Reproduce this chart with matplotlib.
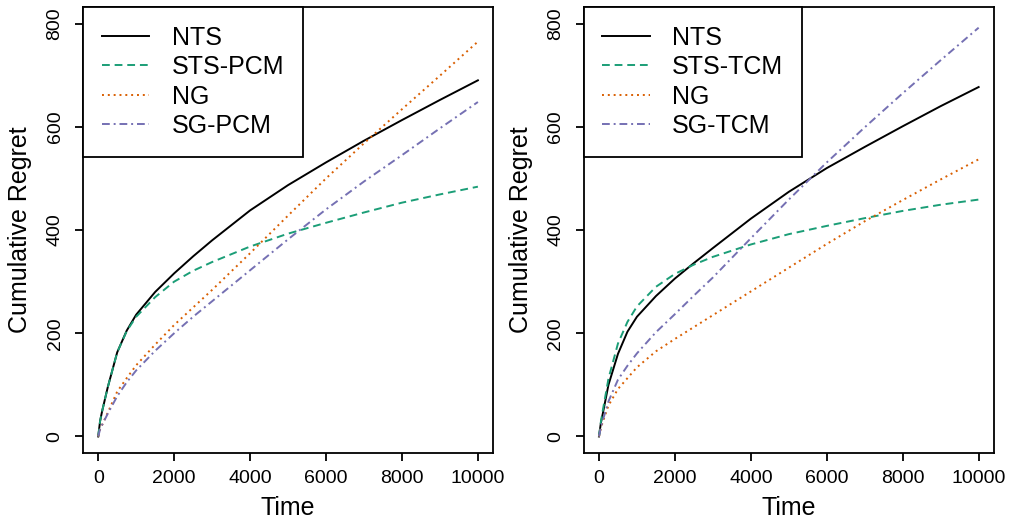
import numpy as np
import matplotlib.pyplot as plt

plt.rcParams['font.family'] = ['Liberation Sans', 'DejaVu Sans']

# tempi di campionamento delle curve
tempi = [0, 50, 100, 250, 500, 750, 1000, 1500, 2000, 2500, 3000,
         4000, 5000, 6000, 7000, 8000, 9000, 10000]

# pannello sinistro (PCM)
nts_sx = [0, 30, 48, 95, 163, 205, 236, 280, 316, 349, 380, 438, 487, 531, 573, 613, 652, 690]
sts_pcm = [0, 30, 48, 95, 163, 204, 232, 270, 300, 321, 338, 368, 393, 414, 434, 453, 469, 484]
ng_sx = [0, 14, 22, 46, 87, 113, 138, 178, 216, 250, 284, 355, 428, 500, 568, 634, 699, 765]
sg_pcm = [0, 14, 22, 44, 78, 105, 128, 166, 200, 232, 262, 322, 382, 440, 494, 545, 597, 648]

# pannello destro (TCM)
nts_dx = [0, 26, 44, 100, 160, 203, 232, 272, 306, 336, 365, 422, 474, 520, 561, 601, 640, 677]
sts_tcm = [0, 28, 50, 112, 180, 222, 252, 290, 315, 333, 348, 372, 392, 408, 423, 437, 449, 459]
ng_dx = [0, 16, 28, 60, 92, 113, 134, 165, 189, 212, 235, 281, 327, 373, 417, 458, 498, 537]
sg_tcm = [0, 17, 31, 68, 110, 137, 161, 202, 237, 273, 308, 384, 459, 531, 599, 665, 729, 792]

verde = '#1B9E77'
arancio = '#D95F02'
viola = '#7570B3'

pannelli = [
    (["NTS", "STS-PCM", "NG", "SG-PCM"], [nts_sx, sts_pcm, ng_sx, sg_pcm]),
    (["NTS", "STS-TCM", "NG", "SG-TCM"], [nts_dx, sts_tcm, ng_dx, sg_tcm]),
]
stili = [
    dict(color='black', linestyle='-'),
    dict(color=verde, dashes=(4, 2.5)),
    dict(color=arancio, dashes=(1, 2)),
    dict(color=viola, dashes=(4, 2, 1, 2)),
]

fig = plt.figure(figsize=(10.1, 5.21), dpi=100)
posizioni = [[0.0822, 0.1305, 0.406, 0.856], [0.578, 0.1305, 0.406, 0.856]]

for pos, (nomi, serie) in zip(posizioni, pannelli):
    ax = fig.add_axes(pos)
    for nome, valori, st in zip(nomi, serie, stili):
        ax.plot(tempi, valori, lw=1.4, label=nome, **st)
    ax.set_xlim(-400, 10400)
    ax.set_ylim(-32, 832)
    ax.set_xticks(np.arange(0, 10001, 2000))
    ax.set_yticks(np.arange(0, 801, 200))
    for s in ax.spines.values():
        s.set_linewidth(1.3)
    ax.tick_params(direction='out', length=6, width=1.3, labelsize=14)
    ax.tick_params(axis='x', pad=6)
    ax.tick_params(axis='y', pad=8)
    for lab in ax.get_yticklabels():
        lab.set_rotation(90)
        lab.set_va('center')
    ax.set_xlabel("Time", fontsize=18, va='center')
    ax.xaxis.set_label_coords(0.5, -0.123)
    ax.set_ylabel("Cumulative Regret", fontsize=18, va='center')
    ax.yaxis.set_label_coords(-0.154, 0.5)
    leg = ax.legend(loc='upper left', fontsize=18, borderaxespad=0,
                    fancybox=False, framealpha=1, edgecolor='black',
                    handlelength=1.9, handletextpad=0.9, labelspacing=0.22,
                    borderpad=0.74)
    leg.get_frame().set_linewidth(1.3)

fig.savefig("out.png", dpi=100)
